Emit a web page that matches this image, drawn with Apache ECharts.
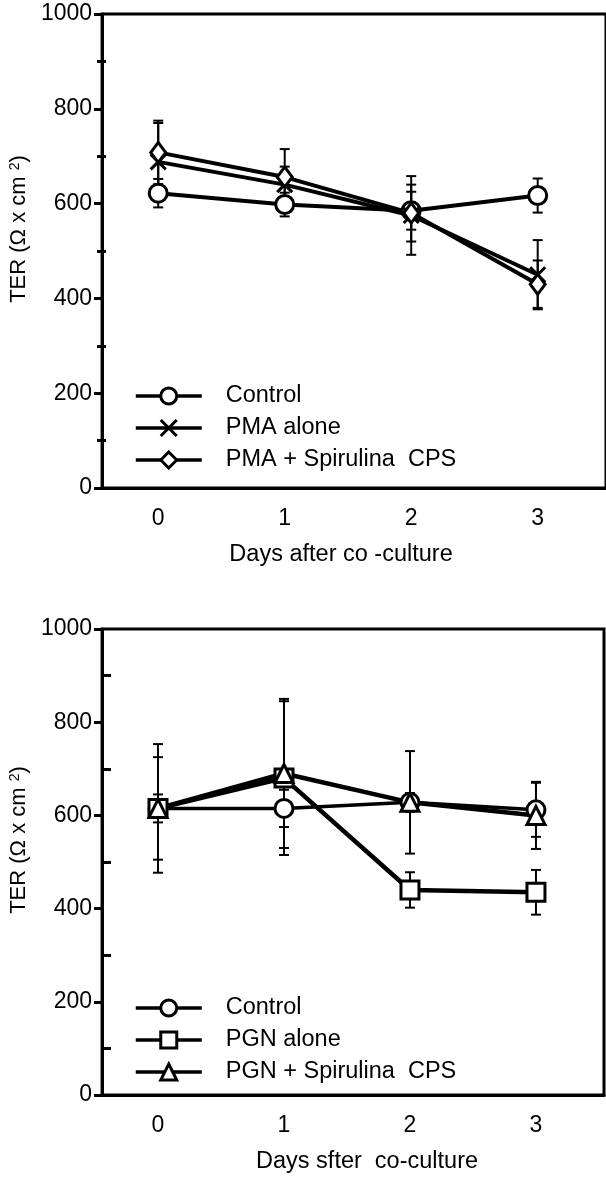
<!DOCTYPE html>
<html>
<head>
<meta charset="utf-8">
<script src="https://cdn.jsdelivr.net/npm/echarts@6/dist/echarts.min.js"></script>
<style>
  html, body { margin: 0; padding: 0; background: #fff; }
  #main { width: 606px; height: 1181px; }
</style>
</head>
<body>
<div id="main"></div>
<script>
// days on the x axis
var days = [0, 1, 2, 3]
var yTicks = [0, 200, 400, 600, 800, 1000]

// top panel (PMA)
var ctrlTop = [622, 598, 585, 617]
var ctrlTopErr = [30, 25, 40, 36]
var pmaAlone = [688, 640, 575, 450]
var pmaAloneErr = [82, 38, 83, 73]
var pmaSpir = [708, 656, 580, 430]
var pmaSpirErr = [67, 59, 60, 50]

// bottom panel (PGN)
var ctrlBot = [615, 615, 628, 612]
var ctrlBotErr = [30, 40, 20, 58]
var pgnAlone = [615, 680, 440, 435]
var pgnAloneErr = [110, 165, 38, 48]
var pgnSpir = [615, 690, 628, 600]
var pgnSpirErr = [138, 160, 110, 72]

var FONT = 'Liberation Sans, Arial, sans-serif'
var crossPath = 'path://M0,0L10,10M10,0L0,10'

function pts (vals) {
  return days.map(function (d, i) { return [d, vals[i]] })
}
function errs (vals, e) {
  return days.map(function (d, i) { return [d, vals[i] - e[i], vals[i] + e[i]] })
}

function errRender (params, api) {
  var x = api.value(0)
  var hi = api.coord([x, api.value(2)])
  var lo = api.coord([x, api.value(1)])
  var w = 5
  var st = { stroke: '#000', lineWidth: 2 }
  return {
    type: 'group',
    children: [
      { type: 'line', shape: { x1: hi[0], y1: hi[1], x2: lo[0], y2: lo[1] }, style: st },
      { type: 'line', shape: { x1: hi[0] - w, y1: hi[1], x2: hi[0] + w, y2: hi[1] }, style: st },
      { type: 'line', shape: { x1: lo[0] - w, y1: lo[1], x2: lo[0] + w, y2: lo[1] }, style: st }
    ]
  }
}

function errSeries (grid, vals, e) {
  return {
    type: 'custom',
    xAxisIndex: grid * 2,
    yAxisIndex: grid * 2,
    renderItem: errRender,
    encode: { x: 0, y: [1, 2] },
    data: errs(vals, e),
    z: 1,
    silent: true
  }
}

function lineSeries (grid, name, vals, symbol, size, lw, fill) {
  return {
    type: 'line',
    name: name,
    xAxisIndex: grid * 2,
    yAxisIndex: grid * 2,
    data: pts(vals),
    symbol: symbol,
    symbolSize: size,
    showAllSymbol: true,
    lineStyle: { color: '#000', width: lw },
    itemStyle: { color: fill, borderColor: '#000', borderWidth: 3 },
    z: 3,
    animation: false
  }
}

function xAxisMain (grid, name, pad) {
  return {
    type: 'value',
    gridIndex: grid,
    min: -0.444,
    max: 3.54,
    axisLine: { onZero: false, lineStyle: { color: '#000', width: 3 } },
    axisTick: { show: false },
    splitLine: { show: false },
    axisLabel: { customValues: days, color: '#000', fontSize: 23, fontFamily: FONT, margin: 19 },
    name: name,
    nameLocation: 'middle',
    nameGap: 55,
    nameTextStyle: { color: '#000', fontSize: 23.5, fontFamily: FONT, padding: pad }
  }
}

function xAxisHidden (grid) {
  return { type: 'value', gridIndex: grid, min: -0.444, max: 3.54, show: false }
}

function yAxisMain (grid) {
  return {
    type: 'value',
    gridIndex: grid,
    min: 0,
    max: 1000,
    interval: 200,
    axisLine: { show: true, onZero: false, lineStyle: { color: '#000', width: 3 } },
    axisTick: { show: true, length: 8, lineStyle: { color: '#000', width: 3 } },
    splitLine: { show: false },
    axisLabel: {
      customValues: yTicks, color: '#000', fontSize: 23, fontFamily: FONT, margin: 10,
      formatter: function (v) { return String(v) }
    },
    name: 'TER (Ω x cm {s|2})',
    nameLocation: 'middle',
    nameRotate: 90,
    nameGap: 60,
    nameTextStyle: {
      color: '#000', fontSize: 22, fontFamily: FONT, padding: [0, 0, 0, 44],
      rich: { s: { fontSize: 14, fontFamily: FONT, color: '#000', verticalAlign: 'top', padding: [0, 0, 8, 0] } }
    }
  }
}

// second axis only for the short inner ticks between the labelled ones
function yAxisMinor (grid) {
  return {
    type: 'value',
    gridIndex: grid,
    min: 0,
    max: 1000,
    interval: 200,
    axisLine: { show: false, onZero: false },
    axisTick: { show: false, inside: true },
    axisLabel: { show: false },
    splitLine: { show: false },
    minorTick: { show: true, splitNumber: 2, length: 9, lineStyle: { color: '#000', width: 3 } },
    minorSplitLine: { show: false }
  }
}

function legendFor (top, names) {
  return {
    orient: 'vertical',
    left: 129,
    top: top,
    data: names,
    itemWidth: 66,
    itemHeight: 20,
    itemGap: 8,
    selectedMode: false,
    itemStyle: { borderWidth: 3 },
    lineStyle: { width: 3.5 },
    textStyle: { color: '#000', fontSize: 23.5, fontFamily: FONT, lineHeight: 22, padding: [0, 0, 0, 19] }
  }
}

var myChart = echarts.init(document.getElementById('main'), null, { renderer: 'canvas' })
var option = {
  backgroundColor: '#fff',
  animation: false,
  grid: [
    { left: 97, top: 14, width: 511, height: 474, show: true, borderColor: '#000', borderWidth: 3 },
    { left: 97, top: 14, width: 511, height: 474 },
    { left: 102, top: 629, width: 502, height: 466, show: true, borderColor: '#000', borderWidth: 3 },
    { left: 102, top: 629, width: 502, height: 466 }
  ],
  xAxis: [
    xAxisMain(0, 'Days after co -culture', [0, 26, 0, 0]),
    xAxisHidden(1),
    xAxisMain(2, 'Days sfter  co-culture', [0, 0, 0, 28]),
    xAxisHidden(3)
  ],
  yAxis: [yAxisMain(0), yAxisMinor(1), yAxisMain(2), yAxisMinor(3)],
  legend: [
    legendFor(379, ['Control', 'PMA alone', 'PMA + Spirulina  CPS']),
    legendFor(991, ['Control', 'PGN alone', 'PGN + Spirulina  CPS'])
  ],
  series: [
    errSeries(0, ctrlTop, ctrlTopErr),
    errSeries(0, pmaAlone, pmaAloneErr),
    errSeries(0, pmaSpir, pmaSpirErr),
    lineSeries(0, 'Control', ctrlTop, 'circle', 18, 4, '#fff'),
    lineSeries(0, 'PMA alone', pmaAlone, crossPath, 15, 4, 'rgba(0,0,0,0)'),
    lineSeries(0, 'PMA + Spirulina  CPS', pmaSpir, 'diamond', [15, 20], 4, '#fff'),
    errSeries(1, ctrlBot, ctrlBotErr),
    errSeries(1, pgnAlone, pgnAloneErr),
    errSeries(1, pgnSpir, pgnSpirErr),
    lineSeries(1, 'Control', ctrlBot, 'circle', 18, 3.5, '#fff'),
    lineSeries(1, 'PGN alone', pgnAlone, 'rect', 18, 4.5, '#fff'),
    lineSeries(1, 'PGN + Spirulina  CPS', pgnSpir, 'triangle', 18, 4.5, '#fff')
  ]
}
myChart.setOption(option)
</script>
</body>
</html>
